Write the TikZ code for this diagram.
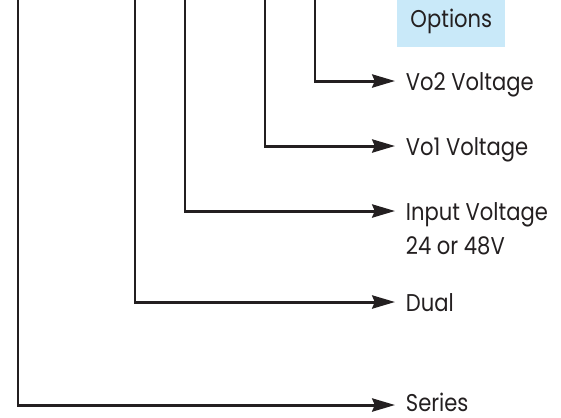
\documentclass[tikz,border=0pt]{standalone}
\usepackage{fontspec}
\setmainfont{Poppins}[FakeStretch=0.87]
\usetikzlibrary{arrows.meta}
\definecolor{ink}{HTML}{231F20}
\definecolor{optblue}{HTML}{C9E9F9}

\begin{document}
\begin{tikzpicture}[x=0.02cm, y=-0.02cm,
  lead/.style={draw=ink, line width=1.7pt, -{Stealth[length=13pt, width=7.5pt, inset=1.5pt]}},
  tag/.style={anchor=base west, inner xsep=6pt, inner ysep=0pt, text=ink, font=\fontsize{13.8}{16}\selectfont}]
  \useasboundingbox (0,0) rectangle (561,417);
  \node[fill=optblue, text=ink, font=\fontsize{13.8}{16}\selectfont, minimum width=108*0.02cm, inner sep=0pt,
    text height=0.54cm, text depth=0.4cm, anchor=north west] (opts) at (397,0) {Options};
  % top ends of the leads
  \coordinate (series top) at (18,0);
  \coordinate (dual top) at (135,0);
  \coordinate (input top) at (185,0);
  \coordinate (vo1 top) at (265,0);
  \coordinate (vo2 top) at (315,0);
  % labels
  \node[tag] (vo2) at (395,90) {Vo2 Voltage};
  \node[tag] (vo1) at (395,155) {Vo1 Voltage};
  \node[tag] (input) at (395,220) {Input Voltage};
  \node[tag] (volts) at (395,254) {24 or 48V};
  \node[tag] (dual) at (395,311) {Dual};
  \node[tag] (series) at (395,411) {Series};
  % leads
  \draw[lead] (vo2 top) |- (vo2.west |- 0,81);
  \draw[lead] (vo1 top) |- (vo1.west |- 0,146);
  \draw[lead] (input top) |- (input.west |- 0,211);
  \draw[lead] (dual top) |- (dual.west |- 0,302);
  \draw[lead] (series top) |- (series.west |- 0,405);
\end{tikzpicture}
\end{document}
